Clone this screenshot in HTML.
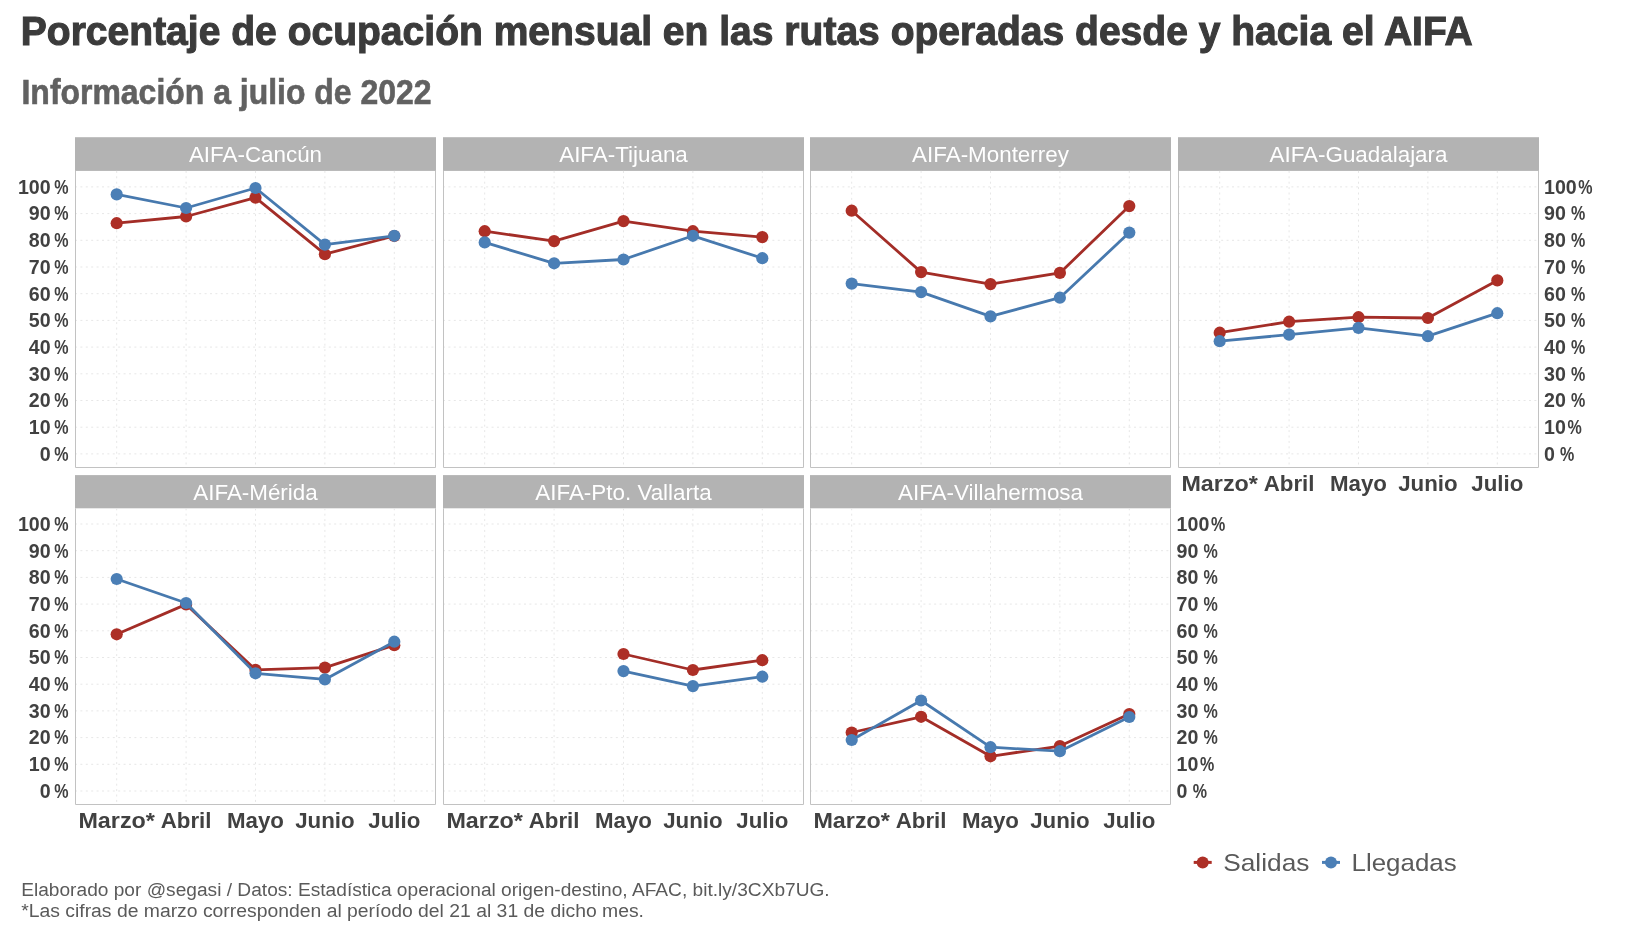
<!DOCTYPE html><html><head><meta charset="utf-8"><style>html,body{margin:0;padding:0;background:#fff;width:1646px;height:942px;overflow:hidden}svg{display:block;will-change:transform}text{font-family:"Liberation Sans",sans-serif}</style></head><body>
<svg width="1646" height="942" viewBox="0 0 1646 942">
<rect width="1646" height="942" fill="#fff"/>
<text x="20.8" y="44.9" font-size="41.2" font-weight="bold" fill="#3b3b3b" stroke="#3b3b3b" stroke-width="1.1" textLength="1452" lengthAdjust="spacingAndGlyphs">Porcentaje de ocupación mensual en las rutas operadas desde y hacia el AIFA</text>
<text x="21.5" y="104.0" font-size="34.8" font-weight="bold" fill="#616161" stroke="#616161" stroke-width="0.6" textLength="410" lengthAdjust="spacingAndGlyphs">Información a julio de 2022</text>
<rect x="75.0" y="137.2" width="361.0" height="33.7" fill="#b3b3b3"/>
<text x="255.5" y="161.6" font-size="22.4" fill="#fff" text-anchor="middle">AIFA-Cancún</text>
<path d="M75.0 453.9H436.0 M75.0 427.2H436.0 M75.0 400.5H436.0 M75.0 373.8H436.0 M75.0 347.1H436.0 M75.0 320.4H436.0 M75.0 293.7H436.0 M75.0 267.0H436.0 M75.0 240.3H436.0 M75.0 213.6H436.0 M75.0 186.9H436.0 M116.7 170.9V467.5 M186.1 170.9V467.5 M255.5 170.9V467.5 M324.9 170.9V467.5 M394.3 170.9V467.5" stroke="#e7e7e7" stroke-width="1" stroke-dasharray="2 3.4" fill="none"/>
<path d="M75.5 170.9V467.5H435.5V170.9" fill="none" stroke="#c2c2c2" stroke-width="1"/>
<path d="M116.7 223.2 L186.1 216.5 L255.5 197.6 L324.9 254.2 L394.3 236.0" stroke="#a32d27" stroke-width="2.8" fill="none" stroke-linejoin="round"/>
<circle cx="116.7" cy="223.2" r="6.1" fill="#ad2f26"/>
<circle cx="186.1" cy="216.5" r="6.1" fill="#ad2f26"/>
<circle cx="255.5" cy="197.6" r="6.1" fill="#ad2f26"/>
<circle cx="324.9" cy="254.2" r="6.1" fill="#ad2f26"/>
<circle cx="394.3" cy="236.0" r="6.1" fill="#ad2f26"/>
<path d="M116.7 194.4 L186.1 208.0 L255.5 188.0 L324.9 244.6 L394.3 235.8" stroke="#4779ae" stroke-width="2.8" fill="none" stroke-linejoin="round"/>
<circle cx="116.7" cy="194.4" r="6.1" fill="#4b7fb6"/>
<circle cx="186.1" cy="208.0" r="6.1" fill="#4b7fb6"/>
<circle cx="255.5" cy="188.0" r="6.1" fill="#4b7fb6"/>
<circle cx="324.9" cy="244.6" r="6.1" fill="#4b7fb6"/>
<circle cx="394.3" cy="235.8" r="6.1" fill="#4b7fb6"/>
<rect x="443.0" y="137.2" width="361.0" height="33.7" fill="#b3b3b3"/>
<text x="623.5" y="161.6" font-size="22.4" fill="#fff" text-anchor="middle">AIFA-Tijuana</text>
<path d="M443.0 453.9H804.0 M443.0 427.2H804.0 M443.0 400.5H804.0 M443.0 373.8H804.0 M443.0 347.1H804.0 M443.0 320.4H804.0 M443.0 293.7H804.0 M443.0 267.0H804.0 M443.0 240.3H804.0 M443.0 213.6H804.0 M443.0 186.9H804.0 M484.7 170.9V467.5 M554.1 170.9V467.5 M623.5 170.9V467.5 M692.9 170.9V467.5 M762.3 170.9V467.5" stroke="#e7e7e7" stroke-width="1" stroke-dasharray="2 3.4" fill="none"/>
<path d="M443.5 170.9V467.5H803.5V170.9" fill="none" stroke="#c2c2c2" stroke-width="1"/>
<path d="M484.7 231.2 L554.1 241.1 L623.5 221.1 L692.9 231.2 L762.3 237.1" stroke="#a32d27" stroke-width="2.8" fill="none" stroke-linejoin="round"/>
<circle cx="484.7" cy="231.2" r="6.1" fill="#ad2f26"/>
<circle cx="554.1" cy="241.1" r="6.1" fill="#ad2f26"/>
<circle cx="623.5" cy="221.1" r="6.1" fill="#ad2f26"/>
<circle cx="692.9" cy="231.2" r="6.1" fill="#ad2f26"/>
<circle cx="762.3" cy="237.1" r="6.1" fill="#ad2f26"/>
<path d="M484.7 242.4 L554.1 263.3 L623.5 259.5 L692.9 235.8 L762.3 258.2" stroke="#4779ae" stroke-width="2.8" fill="none" stroke-linejoin="round"/>
<circle cx="484.7" cy="242.4" r="6.1" fill="#4b7fb6"/>
<circle cx="554.1" cy="263.3" r="6.1" fill="#4b7fb6"/>
<circle cx="623.5" cy="259.5" r="6.1" fill="#4b7fb6"/>
<circle cx="692.9" cy="235.8" r="6.1" fill="#4b7fb6"/>
<circle cx="762.3" cy="258.2" r="6.1" fill="#4b7fb6"/>
<rect x="810.0" y="137.2" width="361.0" height="33.7" fill="#b3b3b3"/>
<text x="990.5" y="161.6" font-size="22.4" fill="#fff" text-anchor="middle">AIFA-Monterrey</text>
<path d="M810.0 453.9H1171.0 M810.0 427.2H1171.0 M810.0 400.5H1171.0 M810.0 373.8H1171.0 M810.0 347.1H1171.0 M810.0 320.4H1171.0 M810.0 293.7H1171.0 M810.0 267.0H1171.0 M810.0 240.3H1171.0 M810.0 213.6H1171.0 M810.0 186.9H1171.0 M851.7 170.9V467.5 M921.1 170.9V467.5 M990.5 170.9V467.5 M1059.9 170.9V467.5 M1129.3 170.9V467.5" stroke="#e7e7e7" stroke-width="1" stroke-dasharray="2 3.4" fill="none"/>
<path d="M810.5 170.9V467.5H1170.5V170.9" fill="none" stroke="#c2c2c2" stroke-width="1"/>
<path d="M851.7 210.7 L921.1 272.1 L990.5 284.1 L1059.9 272.9 L1129.3 206.1" stroke="#a32d27" stroke-width="2.8" fill="none" stroke-linejoin="round"/>
<circle cx="851.7" cy="210.7" r="6.1" fill="#ad2f26"/>
<circle cx="921.1" cy="272.1" r="6.1" fill="#ad2f26"/>
<circle cx="990.5" cy="284.1" r="6.1" fill="#ad2f26"/>
<circle cx="1059.9" cy="272.9" r="6.1" fill="#ad2f26"/>
<circle cx="1129.3" cy="206.1" r="6.1" fill="#ad2f26"/>
<path d="M851.7 283.6 L921.1 292.1 L990.5 316.4 L1059.9 297.7 L1129.3 232.6" stroke="#4779ae" stroke-width="2.8" fill="none" stroke-linejoin="round"/>
<circle cx="851.7" cy="283.6" r="6.1" fill="#4b7fb6"/>
<circle cx="921.1" cy="292.1" r="6.1" fill="#4b7fb6"/>
<circle cx="990.5" cy="316.4" r="6.1" fill="#4b7fb6"/>
<circle cx="1059.9" cy="297.7" r="6.1" fill="#4b7fb6"/>
<circle cx="1129.3" cy="232.6" r="6.1" fill="#4b7fb6"/>
<rect x="1178.0" y="137.2" width="361.0" height="33.7" fill="#b3b3b3"/>
<text x="1358.5" y="161.6" font-size="22.4" fill="#fff" text-anchor="middle">AIFA-Guadalajara</text>
<path d="M1178.0 453.9H1539.0 M1178.0 427.2H1539.0 M1178.0 400.5H1539.0 M1178.0 373.8H1539.0 M1178.0 347.1H1539.0 M1178.0 320.4H1539.0 M1178.0 293.7H1539.0 M1178.0 267.0H1539.0 M1178.0 240.3H1539.0 M1178.0 213.6H1539.0 M1178.0 186.9H1539.0 M1219.7 170.9V467.5 M1289.1 170.9V467.5 M1358.5 170.9V467.5 M1427.9 170.9V467.5 M1497.3 170.9V467.5" stroke="#e7e7e7" stroke-width="1" stroke-dasharray="2 3.4" fill="none"/>
<path d="M1178.5 170.9V467.5H1538.5V170.9" fill="none" stroke="#c2c2c2" stroke-width="1"/>
<path d="M1219.7 332.7 L1289.1 321.7 L1358.5 317.2 L1427.9 318.0 L1497.3 280.4" stroke="#a32d27" stroke-width="2.8" fill="none" stroke-linejoin="round"/>
<circle cx="1219.7" cy="332.7" r="6.1" fill="#ad2f26"/>
<circle cx="1289.1" cy="321.7" r="6.1" fill="#ad2f26"/>
<circle cx="1358.5" cy="317.2" r="6.1" fill="#ad2f26"/>
<circle cx="1427.9" cy="318.0" r="6.1" fill="#ad2f26"/>
<circle cx="1497.3" cy="280.4" r="6.1" fill="#ad2f26"/>
<path d="M1219.7 341.2 L1289.1 334.6 L1358.5 327.9 L1427.9 336.2 L1497.3 313.2" stroke="#4779ae" stroke-width="2.8" fill="none" stroke-linejoin="round"/>
<circle cx="1219.7" cy="341.2" r="6.1" fill="#4b7fb6"/>
<circle cx="1289.1" cy="334.6" r="6.1" fill="#4b7fb6"/>
<circle cx="1358.5" cy="327.9" r="6.1" fill="#4b7fb6"/>
<circle cx="1427.9" cy="336.2" r="6.1" fill="#4b7fb6"/>
<circle cx="1497.3" cy="313.2" r="6.1" fill="#4b7fb6"/>
<rect x="75.0" y="475.1" width="361.0" height="33.2" fill="#b3b3b3"/>
<text x="255.5" y="499.5" font-size="22.4" fill="#fff" text-anchor="middle">AIFA-Mérida</text>
<path d="M75.0 791.0H436.0 M75.0 764.3H436.0 M75.0 737.6H436.0 M75.0 710.9H436.0 M75.0 684.2H436.0 M75.0 657.5H436.0 M75.0 630.8H436.0 M75.0 604.1H436.0 M75.0 577.4H436.0 M75.0 550.7H436.0 M75.0 524.0H436.0 M116.7 508.3V804.5 M186.1 508.3V804.5 M255.5 508.3V804.5 M324.9 508.3V804.5 M394.3 508.3V804.5" stroke="#e7e7e7" stroke-width="1" stroke-dasharray="2 3.4" fill="none"/>
<path d="M75.5 508.3V804.5H435.5V508.3" fill="none" stroke="#c2c2c2" stroke-width="1"/>
<path d="M116.7 634.3 L186.1 604.4 L255.5 669.8 L324.9 667.6 L394.3 645.2" stroke="#a32d27" stroke-width="2.8" fill="none" stroke-linejoin="round"/>
<circle cx="116.7" cy="634.3" r="6.1" fill="#ad2f26"/>
<circle cx="186.1" cy="604.4" r="6.1" fill="#ad2f26"/>
<circle cx="255.5" cy="669.8" r="6.1" fill="#ad2f26"/>
<circle cx="324.9" cy="667.6" r="6.1" fill="#ad2f26"/>
<circle cx="394.3" cy="645.2" r="6.1" fill="#ad2f26"/>
<path d="M116.7 579.0 L186.1 603.0 L255.5 673.3 L324.9 679.4 L394.3 641.7" stroke="#4779ae" stroke-width="2.8" fill="none" stroke-linejoin="round"/>
<circle cx="116.7" cy="579.0" r="6.1" fill="#4b7fb6"/>
<circle cx="186.1" cy="603.0" r="6.1" fill="#4b7fb6"/>
<circle cx="255.5" cy="673.3" r="6.1" fill="#4b7fb6"/>
<circle cx="324.9" cy="679.4" r="6.1" fill="#4b7fb6"/>
<circle cx="394.3" cy="641.7" r="6.1" fill="#4b7fb6"/>
<rect x="443.0" y="475.1" width="361.0" height="33.2" fill="#b3b3b3"/>
<text x="623.5" y="499.5" font-size="22.4" fill="#fff" text-anchor="middle">AIFA-Pto. Vallarta</text>
<path d="M443.0 791.0H804.0 M443.0 764.3H804.0 M443.0 737.6H804.0 M443.0 710.9H804.0 M443.0 684.2H804.0 M443.0 657.5H804.0 M443.0 630.8H804.0 M443.0 604.1H804.0 M443.0 577.4H804.0 M443.0 550.7H804.0 M443.0 524.0H804.0 M484.7 508.3V804.5 M554.1 508.3V804.5 M623.5 508.3V804.5 M692.9 508.3V804.5 M762.3 508.3V804.5" stroke="#e7e7e7" stroke-width="1" stroke-dasharray="2 3.4" fill="none"/>
<path d="M443.5 508.3V804.5H803.5V508.3" fill="none" stroke="#c2c2c2" stroke-width="1"/>
<path d="M623.5 654.0 L692.9 670.0 L762.3 660.2" stroke="#a32d27" stroke-width="2.8" fill="none" stroke-linejoin="round"/>
<circle cx="623.5" cy="654.0" r="6.1" fill="#ad2f26"/>
<circle cx="692.9" cy="670.0" r="6.1" fill="#ad2f26"/>
<circle cx="762.3" cy="660.2" r="6.1" fill="#ad2f26"/>
<path d="M623.5 671.1 L692.9 686.1 L762.3 676.7" stroke="#4779ae" stroke-width="2.8" fill="none" stroke-linejoin="round"/>
<circle cx="623.5" cy="671.1" r="6.1" fill="#4b7fb6"/>
<circle cx="692.9" cy="686.1" r="6.1" fill="#4b7fb6"/>
<circle cx="762.3" cy="676.7" r="6.1" fill="#4b7fb6"/>
<rect x="810.0" y="475.1" width="361.0" height="33.2" fill="#b3b3b3"/>
<text x="990.5" y="499.5" font-size="22.4" fill="#fff" text-anchor="middle">AIFA-Villahermosa</text>
<path d="M810.0 791.0H1171.0 M810.0 764.3H1171.0 M810.0 737.6H1171.0 M810.0 710.9H1171.0 M810.0 684.2H1171.0 M810.0 657.5H1171.0 M810.0 630.8H1171.0 M810.0 604.1H1171.0 M810.0 577.4H1171.0 M810.0 550.7H1171.0 M810.0 524.0H1171.0 M851.7 508.3V804.5 M921.1 508.3V804.5 M990.5 508.3V804.5 M1059.9 508.3V804.5 M1129.3 508.3V804.5" stroke="#e7e7e7" stroke-width="1" stroke-dasharray="2 3.4" fill="none"/>
<path d="M810.5 508.3V804.5H1170.5V508.3" fill="none" stroke="#c2c2c2" stroke-width="1"/>
<path d="M851.7 732.5 L921.1 716.8 L990.5 756.3 L1059.9 746.1 L1129.3 714.1" stroke="#a32d27" stroke-width="2.8" fill="none" stroke-linejoin="round"/>
<circle cx="851.7" cy="732.5" r="6.1" fill="#ad2f26"/>
<circle cx="921.1" cy="716.8" r="6.1" fill="#ad2f26"/>
<circle cx="990.5" cy="756.3" r="6.1" fill="#ad2f26"/>
<circle cx="1059.9" cy="746.1" r="6.1" fill="#ad2f26"/>
<circle cx="1129.3" cy="714.1" r="6.1" fill="#ad2f26"/>
<path d="M851.7 740.0 L921.1 700.5 L990.5 747.2 L1059.9 751.2 L1129.3 717.0" stroke="#4779ae" stroke-width="2.8" fill="none" stroke-linejoin="round"/>
<circle cx="851.7" cy="740.0" r="6.1" fill="#4b7fb6"/>
<circle cx="921.1" cy="700.5" r="6.1" fill="#4b7fb6"/>
<circle cx="990.5" cy="747.2" r="6.1" fill="#4b7fb6"/>
<circle cx="1059.9" cy="751.2" r="6.1" fill="#4b7fb6"/>
<circle cx="1129.3" cy="717.0" r="6.1" fill="#4b7fb6"/>
<text x="50.6" y="460.7" font-size="19.6" font-weight="bold" fill="#414141" text-anchor="end">0</text><text transform="translate(54.2 460.7) scale(0.82 1)" font-size="19.6" font-weight="bold" fill="#414141">%</text>
<text x="50.6" y="434.0" font-size="19.6" font-weight="bold" fill="#414141" text-anchor="end">10</text><text transform="translate(54.2 434.0) scale(0.82 1)" font-size="19.6" font-weight="bold" fill="#414141">%</text>
<text x="50.6" y="407.3" font-size="19.6" font-weight="bold" fill="#414141" text-anchor="end">20</text><text transform="translate(54.2 407.3) scale(0.82 1)" font-size="19.6" font-weight="bold" fill="#414141">%</text>
<text x="50.6" y="380.6" font-size="19.6" font-weight="bold" fill="#414141" text-anchor="end">30</text><text transform="translate(54.2 380.6) scale(0.82 1)" font-size="19.6" font-weight="bold" fill="#414141">%</text>
<text x="50.6" y="353.9" font-size="19.6" font-weight="bold" fill="#414141" text-anchor="end">40</text><text transform="translate(54.2 353.9) scale(0.82 1)" font-size="19.6" font-weight="bold" fill="#414141">%</text>
<text x="50.6" y="327.2" font-size="19.6" font-weight="bold" fill="#414141" text-anchor="end">50</text><text transform="translate(54.2 327.2) scale(0.82 1)" font-size="19.6" font-weight="bold" fill="#414141">%</text>
<text x="50.6" y="300.5" font-size="19.6" font-weight="bold" fill="#414141" text-anchor="end">60</text><text transform="translate(54.2 300.5) scale(0.82 1)" font-size="19.6" font-weight="bold" fill="#414141">%</text>
<text x="50.6" y="273.8" font-size="19.6" font-weight="bold" fill="#414141" text-anchor="end">70</text><text transform="translate(54.2 273.8) scale(0.82 1)" font-size="19.6" font-weight="bold" fill="#414141">%</text>
<text x="50.6" y="247.1" font-size="19.6" font-weight="bold" fill="#414141" text-anchor="end">80</text><text transform="translate(54.2 247.1) scale(0.82 1)" font-size="19.6" font-weight="bold" fill="#414141">%</text>
<text x="50.6" y="220.4" font-size="19.6" font-weight="bold" fill="#414141" text-anchor="end">90</text><text transform="translate(54.2 220.4) scale(0.82 1)" font-size="19.6" font-weight="bold" fill="#414141">%</text>
<text x="50.6" y="193.7" font-size="19.6" font-weight="bold" fill="#414141" text-anchor="end">100</text><text transform="translate(54.2 193.7) scale(0.82 1)" font-size="19.6" font-weight="bold" fill="#414141">%</text>
<text x="50.6" y="797.8" font-size="19.6" font-weight="bold" fill="#414141" text-anchor="end">0</text><text transform="translate(54.2 797.8) scale(0.82 1)" font-size="19.6" font-weight="bold" fill="#414141">%</text>
<text x="50.6" y="771.1" font-size="19.6" font-weight="bold" fill="#414141" text-anchor="end">10</text><text transform="translate(54.2 771.1) scale(0.82 1)" font-size="19.6" font-weight="bold" fill="#414141">%</text>
<text x="50.6" y="744.4" font-size="19.6" font-weight="bold" fill="#414141" text-anchor="end">20</text><text transform="translate(54.2 744.4) scale(0.82 1)" font-size="19.6" font-weight="bold" fill="#414141">%</text>
<text x="50.6" y="717.7" font-size="19.6" font-weight="bold" fill="#414141" text-anchor="end">30</text><text transform="translate(54.2 717.7) scale(0.82 1)" font-size="19.6" font-weight="bold" fill="#414141">%</text>
<text x="50.6" y="691.0" font-size="19.6" font-weight="bold" fill="#414141" text-anchor="end">40</text><text transform="translate(54.2 691.0) scale(0.82 1)" font-size="19.6" font-weight="bold" fill="#414141">%</text>
<text x="50.6" y="664.3" font-size="19.6" font-weight="bold" fill="#414141" text-anchor="end">50</text><text transform="translate(54.2 664.3) scale(0.82 1)" font-size="19.6" font-weight="bold" fill="#414141">%</text>
<text x="50.6" y="637.6" font-size="19.6" font-weight="bold" fill="#414141" text-anchor="end">60</text><text transform="translate(54.2 637.6) scale(0.82 1)" font-size="19.6" font-weight="bold" fill="#414141">%</text>
<text x="50.6" y="610.9" font-size="19.6" font-weight="bold" fill="#414141" text-anchor="end">70</text><text transform="translate(54.2 610.9) scale(0.82 1)" font-size="19.6" font-weight="bold" fill="#414141">%</text>
<text x="50.6" y="584.2" font-size="19.6" font-weight="bold" fill="#414141" text-anchor="end">80</text><text transform="translate(54.2 584.2) scale(0.82 1)" font-size="19.6" font-weight="bold" fill="#414141">%</text>
<text x="50.6" y="557.5" font-size="19.6" font-weight="bold" fill="#414141" text-anchor="end">90</text><text transform="translate(54.2 557.5) scale(0.82 1)" font-size="19.6" font-weight="bold" fill="#414141">%</text>
<text x="50.6" y="530.8" font-size="19.6" font-weight="bold" fill="#414141" text-anchor="end">100</text><text transform="translate(54.2 530.8) scale(0.82 1)" font-size="19.6" font-weight="bold" fill="#414141">%</text>
<text x="1544.0" y="460.7" font-size="19.6" font-weight="bold" fill="#414141">0</text><text transform="translate(1560.1 460.7) scale(0.82 1)" font-size="19.6" font-weight="bold" fill="#414141">%</text>
<text x="1544.0" y="434.0" font-size="19.6" font-weight="bold" fill="#414141">10</text><text transform="translate(1567.4 434.0) scale(0.82 1)" font-size="19.6" font-weight="bold" fill="#414141">%</text>
<text x="1544.0" y="407.3" font-size="19.6" font-weight="bold" fill="#414141">20</text><text transform="translate(1571.0 407.3) scale(0.82 1)" font-size="19.6" font-weight="bold" fill="#414141">%</text>
<text x="1544.0" y="380.6" font-size="19.6" font-weight="bold" fill="#414141">30</text><text transform="translate(1571.0 380.6) scale(0.82 1)" font-size="19.6" font-weight="bold" fill="#414141">%</text>
<text x="1544.0" y="353.9" font-size="19.6" font-weight="bold" fill="#414141">40</text><text transform="translate(1571.0 353.9) scale(0.82 1)" font-size="19.6" font-weight="bold" fill="#414141">%</text>
<text x="1544.0" y="327.2" font-size="19.6" font-weight="bold" fill="#414141">50</text><text transform="translate(1571.0 327.2) scale(0.82 1)" font-size="19.6" font-weight="bold" fill="#414141">%</text>
<text x="1544.0" y="300.5" font-size="19.6" font-weight="bold" fill="#414141">60</text><text transform="translate(1571.0 300.5) scale(0.82 1)" font-size="19.6" font-weight="bold" fill="#414141">%</text>
<text x="1544.0" y="273.8" font-size="19.6" font-weight="bold" fill="#414141">70</text><text transform="translate(1571.0 273.8) scale(0.82 1)" font-size="19.6" font-weight="bold" fill="#414141">%</text>
<text x="1544.0" y="247.1" font-size="19.6" font-weight="bold" fill="#414141">80</text><text transform="translate(1571.0 247.1) scale(0.82 1)" font-size="19.6" font-weight="bold" fill="#414141">%</text>
<text x="1544.0" y="220.4" font-size="19.6" font-weight="bold" fill="#414141">90</text><text transform="translate(1571.0 220.4) scale(0.82 1)" font-size="19.6" font-weight="bold" fill="#414141">%</text>
<text x="1544.0" y="193.7" font-size="19.6" font-weight="bold" fill="#414141">100</text><text transform="translate(1578.3 193.7) scale(0.82 1)" font-size="19.6" font-weight="bold" fill="#414141">%</text>
<text x="1176.6" y="797.8" font-size="19.6" font-weight="bold" fill="#414141">0</text><text transform="translate(1192.7 797.8) scale(0.82 1)" font-size="19.6" font-weight="bold" fill="#414141">%</text>
<text x="1176.6" y="771.1" font-size="19.6" font-weight="bold" fill="#414141">10</text><text transform="translate(1200.0 771.1) scale(0.82 1)" font-size="19.6" font-weight="bold" fill="#414141">%</text>
<text x="1176.6" y="744.4" font-size="19.6" font-weight="bold" fill="#414141">20</text><text transform="translate(1203.6 744.4) scale(0.82 1)" font-size="19.6" font-weight="bold" fill="#414141">%</text>
<text x="1176.6" y="717.7" font-size="19.6" font-weight="bold" fill="#414141">30</text><text transform="translate(1203.6 717.7) scale(0.82 1)" font-size="19.6" font-weight="bold" fill="#414141">%</text>
<text x="1176.6" y="691.0" font-size="19.6" font-weight="bold" fill="#414141">40</text><text transform="translate(1203.6 691.0) scale(0.82 1)" font-size="19.6" font-weight="bold" fill="#414141">%</text>
<text x="1176.6" y="664.3" font-size="19.6" font-weight="bold" fill="#414141">50</text><text transform="translate(1203.6 664.3) scale(0.82 1)" font-size="19.6" font-weight="bold" fill="#414141">%</text>
<text x="1176.6" y="637.6" font-size="19.6" font-weight="bold" fill="#414141">60</text><text transform="translate(1203.6 637.6) scale(0.82 1)" font-size="19.6" font-weight="bold" fill="#414141">%</text>
<text x="1176.6" y="610.9" font-size="19.6" font-weight="bold" fill="#414141">70</text><text transform="translate(1203.6 610.9) scale(0.82 1)" font-size="19.6" font-weight="bold" fill="#414141">%</text>
<text x="1176.6" y="584.2" font-size="19.6" font-weight="bold" fill="#414141">80</text><text transform="translate(1203.6 584.2) scale(0.82 1)" font-size="19.6" font-weight="bold" fill="#414141">%</text>
<text x="1176.6" y="557.5" font-size="19.6" font-weight="bold" fill="#414141">90</text><text transform="translate(1203.6 557.5) scale(0.82 1)" font-size="19.6" font-weight="bold" fill="#414141">%</text>
<text x="1176.6" y="530.8" font-size="19.6" font-weight="bold" fill="#414141">100</text><text transform="translate(1210.9 530.8) scale(0.82 1)" font-size="19.6" font-weight="bold" fill="#414141">%</text>
<text x="1219.7" y="490.7" font-size="22.3" font-weight="bold" fill="#414141" text-anchor="middle" textLength="76.5" lengthAdjust="spacingAndGlyphs">Marzo*</text>
<text x="1289.1" y="490.7" font-size="22.3" font-weight="bold" fill="#414141" text-anchor="middle">Abril</text>
<text x="1358.5" y="490.7" font-size="22.3" font-weight="bold" fill="#414141" text-anchor="middle">Mayo</text>
<text x="1427.9" y="490.7" font-size="22.3" font-weight="bold" fill="#414141" text-anchor="middle">Junio</text>
<text x="1497.3" y="490.7" font-size="22.3" font-weight="bold" fill="#414141" text-anchor="middle">Julio</text>
<text x="116.7" y="827.7" font-size="22.3" font-weight="bold" fill="#414141" text-anchor="middle" textLength="76.5" lengthAdjust="spacingAndGlyphs">Marzo*</text>
<text x="186.1" y="827.7" font-size="22.3" font-weight="bold" fill="#414141" text-anchor="middle">Abril</text>
<text x="255.5" y="827.7" font-size="22.3" font-weight="bold" fill="#414141" text-anchor="middle">Mayo</text>
<text x="324.9" y="827.7" font-size="22.3" font-weight="bold" fill="#414141" text-anchor="middle">Junio</text>
<text x="394.3" y="827.7" font-size="22.3" font-weight="bold" fill="#414141" text-anchor="middle">Julio</text>
<text x="484.7" y="827.7" font-size="22.3" font-weight="bold" fill="#414141" text-anchor="middle" textLength="76.5" lengthAdjust="spacingAndGlyphs">Marzo*</text>
<text x="554.1" y="827.7" font-size="22.3" font-weight="bold" fill="#414141" text-anchor="middle">Abril</text>
<text x="623.5" y="827.7" font-size="22.3" font-weight="bold" fill="#414141" text-anchor="middle">Mayo</text>
<text x="692.9" y="827.7" font-size="22.3" font-weight="bold" fill="#414141" text-anchor="middle">Junio</text>
<text x="762.3" y="827.7" font-size="22.3" font-weight="bold" fill="#414141" text-anchor="middle">Julio</text>
<text x="851.7" y="827.7" font-size="22.3" font-weight="bold" fill="#414141" text-anchor="middle" textLength="76.5" lengthAdjust="spacingAndGlyphs">Marzo*</text>
<text x="921.1" y="827.7" font-size="22.3" font-weight="bold" fill="#414141" text-anchor="middle">Abril</text>
<text x="990.5" y="827.7" font-size="22.3" font-weight="bold" fill="#414141" text-anchor="middle">Mayo</text>
<text x="1059.9" y="827.7" font-size="22.3" font-weight="bold" fill="#414141" text-anchor="middle">Junio</text>
<text x="1129.3" y="827.7" font-size="22.3" font-weight="bold" fill="#414141" text-anchor="middle">Julio</text>
<path d="M1193.7 862.4H1211.7" stroke="#ad2f26" stroke-width="3"/>
<circle cx="1202.7" cy="862.4" r="6" fill="#ad2f26"/>
<text x="1223.2" y="870.8" font-size="24.4" fill="#5a5a5a" textLength="86.2" lengthAdjust="spacingAndGlyphs">Salidas</text>
<path d="M1322.0 862.4H1340.0" stroke="#4b7fb6" stroke-width="3"/>
<circle cx="1331.0" cy="862.4" r="6" fill="#4b7fb6"/>
<text x="1351.6" y="870.8" font-size="24.4" fill="#5a5a5a" textLength="105.0" lengthAdjust="spacingAndGlyphs">Llegadas</text>
<text x="21.2" y="896.2" font-size="18" fill="#5a5a5a" textLength="808.5" lengthAdjust="spacingAndGlyphs">Elaborado por @segasi / Datos: Estadística operacional origen-destino, AFAC, bit.ly/3CXb7UG.</text>
<text x="21.2" y="917.3" font-size="18" fill="#5a5a5a" textLength="622.8" lengthAdjust="spacingAndGlyphs">*Las cifras de marzo corresponden al período del 21 al 31 de dicho mes.</text>
</svg></body></html>
